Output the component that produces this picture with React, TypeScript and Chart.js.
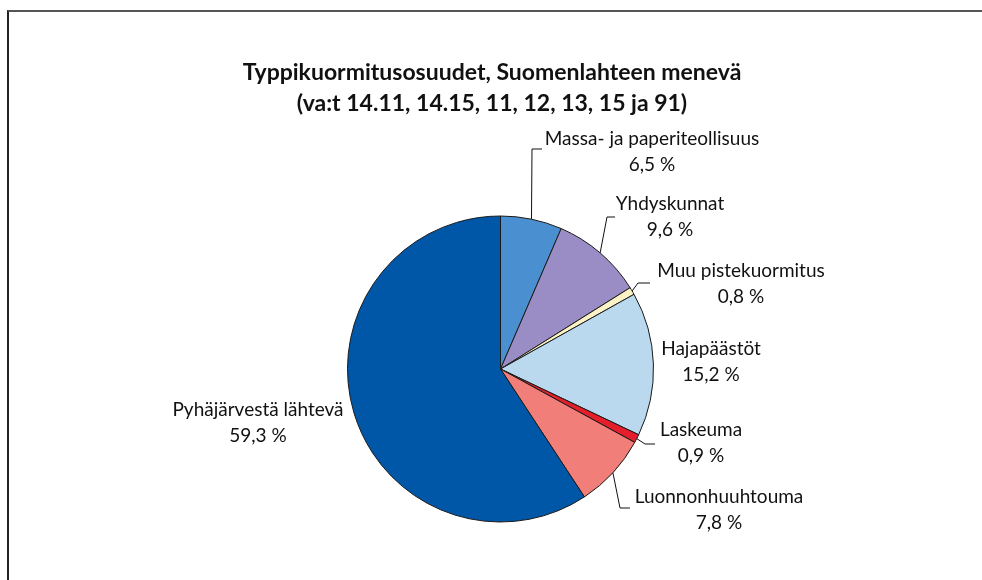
import React, { useEffect, useRef } from "react";
import { Chart, ArcElement, PieController } from "chart.js";

Chart.register(ArcElement, PieController);

// ---- data ----
const titleLines = [
  "Typpikuormitusosuudet, Suomenlahteen menevä",
  "(va:t 14.11, 14.15, 11, 12, 13, 15 ja 91)",
];
const categories = [
  "Massa- ja paperiteollisuus",
  "Yhdyskunnat",
  "Muu pistekuormitus",
  "Hajapäästöt",
  "Laskeuma",
  "Luonnonhuuhtouma",
  "Pyhäjärvestä lähtevä",
];
const shares = [6.5, 9.6, 0.8, 15.2, 0.9, 7.8, 59.3];
const sliceColors = [
  "#4a8fcf",
  "#9a8dc5",
  "#fbf3c6",
  "#bad8ee",
  "#e41e2a",
  "#f17e78",
  "#0057a8",
];

// ---- layout (positions only) ----
// text centre x, baseline of first line, optional leader [elbowX, elbowY, endX]
type LabelPos = { cx: number; by: number; leader: [number, number, number] | null };
const labelLayout: LabelPos[] = [
  { cx: 652, by: 145, leader: [532, 149, 542] },
  { cx: 670, by: 210, leader: [607, 217, 615] },
  { cx: 741, by: 277, leader: [638, 283, 650] },
  { cx: 711, by: 355, leader: null },
  { cx: 701, by: 436, leader: [645, 444, 655] },
  { cx: 719, by: 503, leader: [620, 508, 630] },
  { cx: 258, by: 416, leader: null },
];
const LINE_GAP = 26;
const LABEL_FONT = "19px Lato, 'Open Sans', sans-serif";
const TITLE_FONT = "bold 23px Lato, 'Open Sans', sans-serif";

const fmt = (v: number) => v.toFixed(1).replace(".", ",") + " %";

const labelPlugin = {
  id: "pieLabels",
  afterDraw(chart: any) {
    const ctx = chart.ctx as CanvasRenderingContext2D;
    ctx.save();
    // title
    ctx.fillStyle = "#111";
    ctx.textAlign = "center";
    ctx.textBaseline = "alphabetic";
    ctx.font = TITLE_FONT;
    ctx.fillText(titleLines[0], 492, 80);
    ctx.fillText(titleLines[1], 492, 111);

    const meta = chart.getDatasetMeta(0);
    ctx.font = LABEL_FONT;
    meta.data.forEach((arc: any, i: number) => {
      const pos = labelLayout[i];
      const p = arc.getProps(["x", "y", "startAngle", "endAngle", "outerRadius"], true);
      if (pos.leader) {
        const mid = (p.startAngle + p.endAngle) / 2;
        const sx = p.x + Math.cos(mid) * p.outerRadius;
        const sy = p.y + Math.sin(mid) * p.outerRadius;
        ctx.beginPath();
        ctx.strokeStyle = "#111";
        ctx.lineWidth = 1;
        ctx.moveTo(sx, sy);
        ctx.lineTo(pos.leader[0], pos.leader[1]);
        ctx.lineTo(pos.leader[2], pos.leader[1]);
        ctx.stroke();
      }
      ctx.fillStyle = "#111";
      ctx.fillText(categories[i], pos.cx, pos.by);
      ctx.fillText(fmt(shares[i]), pos.cx, pos.by + LINE_GAP);
    });
    ctx.restore();
  },
};

export default function App() {
  const ref = useRef<HTMLCanvasElement | null>(null);
  useEffect(() => {
    if (!ref.current) return;
    const chart = new Chart(ref.current, {
      type: "pie",
      data: {
        labels: categories,
        datasets: [
          {
            data: shares,
            backgroundColor: sliceColors,
            borderColor: "#1a1a1a",
            borderWidth: 1,
          },
        ],
      },
      options: {
        responsive: false,
        maintainAspectRatio: false,
        animation: false,
        devicePixelRatio: 1,
        layout: { padding: { left: 347, right: 328, top: 215.5, bottom: 57.5 } },
        plugins: { legend: { display: false }, tooltip: { enabled: false } },
      },
      plugins: [labelPlugin],
    });
    return () => chart.destroy();
  }, []);

  return (
    <div style={{ position: "fixed", left: 0, top: 0, width: 982, height: 580, background: "#fff", overflow: "hidden" }}>
      <div
        style={{
          position: "absolute",
          left: 7,
          top: 10,
          width: 990,
          height: 600,
          borderTop: "2px solid #555",
          borderLeft: "2px solid #222",
        }}
      />
      <canvas ref={ref} width={982} height={580} style={{ position: "absolute", left: 0, top: 0, display: "block" }} />
    </div>
  );
}
